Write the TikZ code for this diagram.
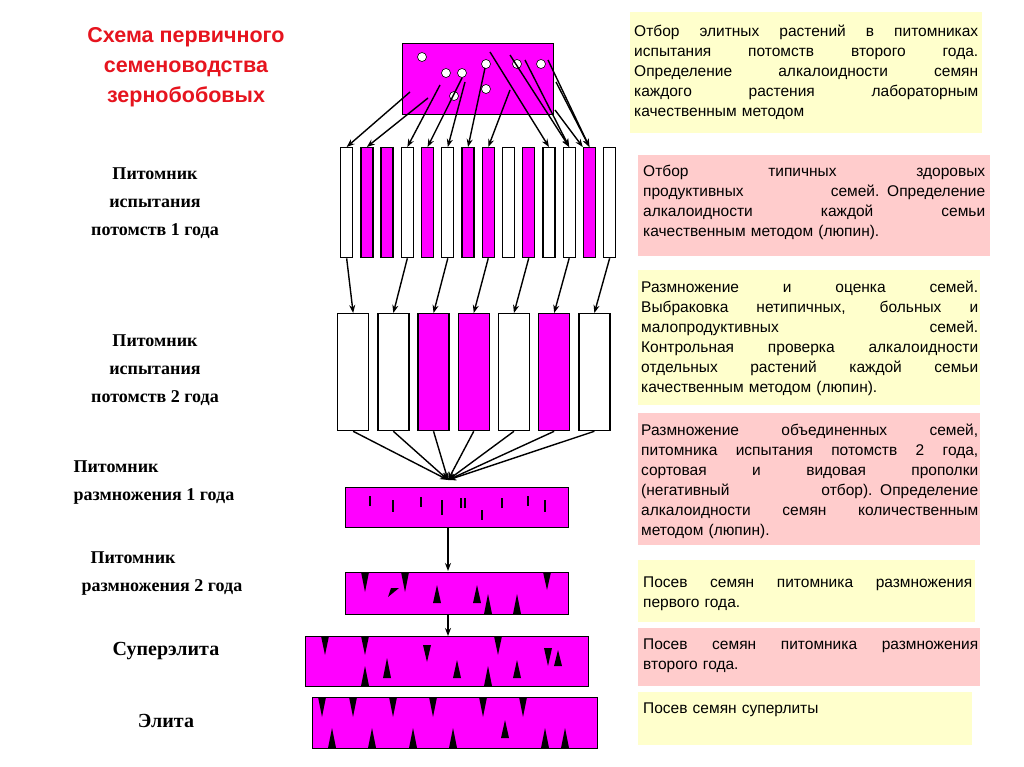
\documentclass[tikz,border=0pt]{standalone}
\usepackage{fontspec}
\setmainfont{Liberation Sans}
\newfontfamily\serifb{Liberation Serif}
\usetikzlibrary{arrows.meta}
\definecolor{mag}{RGB}{255,0,255}
\definecolor{pyel}{RGB}{255,255,204}
\definecolor{ppink}{RGB}{255,204,204}
\definecolor{tred}{RGB}{230,20,30}
\newcommand\jl[1]{\par\noindent\hbox to\linewidth{\spaceskip=.3em plus 1fil #1}\par}
\newcommand\jla[1]{\par\noindent\hbox to\linewidth{#1\hfill}\par}
\begin{document}
\begin{tikzpicture}[x=1pt,y=-1pt,
  box/.style={draw=black,line width=1.3pt,inner sep=0pt,anchor=north west},
  arr/.style={-{Stealth[length=8pt,width=6pt]},line width=1.4pt},
  panel/.style={inner sep=0pt,anchor=north west},
  ptext/.style={anchor=north west,inner sep=0pt,font=\fontsize{15.5}{20}\selectfont},
  lbl/.style={align=center,font=\serifb\bfseries\fontsize{18}{28}\selectfont},
  tri/.style={fill=black}]
\useasboundingbox[fill=white] (0,0) rectangle (1024,767);
% title
\node[align=center,text=tred,font=\bfseries\fontsize{21.5}{30}\selectfont] (title) at (186,67) {Схема первичного\\семеноводства\\зернобобовых};
% top box
\node[box,fill=mag,minimum width=151pt,minimum height=71pt] (top) at (402,43) {};
\foreach \x/\y [count=\i] in {422/57,446/73,462/73,486/64,486/89,517/64,541/64,454/96}
  \node[circle,draw=black,fill=white,line width=0.6pt,minimum size=9pt,inner sep=0pt] (d\i) at (\x,\y) {};
% strips
\foreach \f [count=\i] in {white,mag,mag,white,mag,white,mag,mag,white,mag,white,white,mag,white}
  \node[box,fill=\f,minimum width=12pt,minimum height=110pt] (s\i) at ({340+20.23*(\i-1)},147) {};
% arrows top -> strips
\foreach \x/\y/\t in {410/92/1,428/98/2,440/85/4,462/78/5,465/82/6,485/68/7,510/90/8,490/52/11,510/55/12,525/60/12,548/60/13,556/82/13}
  {\coordinate (src) at (\x,\y); \draw[arr] (src) -- (s\t.north);}
\coordinate (c1) at (555,110); \draw[arr] (c1) -- (s13.north west);
% boxes row 2
\foreach \f [count=\i] in {white,white,mag,mag,white,mag,white}
  \node[box,fill=\f,minimum width=31pt,minimum height=117pt] (b\i) at ({337+40.2*(\i-1)},313) {};
\foreach \s/\b in {1/1,4/2,6/3,8/4,10/5,12/6,14/7}
  \draw[arr] (s\s.south) -- (b\b.north);
% converge
\coordinate (conv) at (448,480);
\foreach \i in {1,...,7} \draw[arr] (b\i.south) -- (conv);
% row 3
\node[box,fill=mag,minimum width=223pt,minimum height=40pt] (r3) at (345,487) {};
\foreach \x/\a/\b in {370/496/506,393/500/512,421/497/507,442/500/515,461/498/508,465/498/508,482/510/520,502/498/508,528/496/506,545/500/512}
  \draw[line width=1.2pt] (\x,\a) -- (\x,\b);
\draw[arr] (r3.south-|conv) -- (448,571);
% row 4
\node[box,fill=mag,minimum width=223pt,minimum height=42pt] (r4) at (345,572) {};
\foreach \x/\a/\b in {365/572/592,405/572/592,547/572/590}
  \fill[tri] (\x-4,\a) -- (\x+4,\a) -- (\x,\b) -- cycle;
\foreach \x/\a/\b in {437/603/585,477/603/585,488/614/594,517/614/594}
  \fill[tri] (\x-4,\a) -- (\x+4,\a) -- (\x,\b) -- cycle;
\fill[tri] (388,597) -- (391,588) -- (399,588) -- cycle;
\draw[arr] (r4.south-|conv) -- (448,636);
% row 5
\node[box,fill=mag,minimum width=283pt,minimum height=50pt] (r5) at (305,636) {};
\foreach \x/\a/\b in {325/636/655,365/636/655,427/645/662,498/636/655,548/648/666}
  \fill[tri] (\x-4,\a) -- (\x+4,\a) -- (\x,\b) -- cycle;
\foreach \x/\a/\b in {387/678/658,457/678/660,517/678/660,558/666/650,365/686/666,488/686/666}
  \fill[tri] (\x-4,\a) -- (\x+4,\a) -- (\x,\b) -- cycle;
% row 6
\node[box,fill=mag,minimum width=285pt,minimum height=51pt] (r6) at (312,697) {};
\foreach \x in {322,353,393,433,483,523}
  \fill[tri] (\x-4,697) -- (\x+4,697) -- (\x,717) -- cycle;
\foreach \x in {332,372,413,453,545,565}
  \fill[tri] (\x-4,748) -- (\x+4,748) -- (\x,728) -- cycle;
\fill[tri] (501,738) -- (509,738) -- (505,720) -- cycle;
% left labels
\node[lbl] (l1) at (155,203) {Питомник\\испытания\\потомств 1 года};
\node[lbl] (l2) at (155,370) {Питомник\\испытания\\потомств 2 года};
\node[lbl,align=left,anchor=west] (l3) at (70,483) {Питомник\\размножения 1 года};
\node[lbl,align=left,anchor=west] (l4) at (78,574) {\ \ Питомник\\размножения 2 года};
\node[lbl,font=\serifb\bfseries\fontsize{20}{24}\selectfont] (l5) at (166,651) {Суперэлита};
\node[lbl,font=\serifb\bfseries\fontsize{20}{24}\selectfont] (l6) at (166,721) {Элита};
% panels
\node[panel,fill=pyel,minimum width=352pt,minimum height=121pt] (p1) at (630,12) {};
\node[ptext,text width=344pt] (t1) at (634,16) {%
\jl{Отбор элитных растений в питомниках}\jl{испытания потомств второго года.}\jl{Определение алкалоидности семян}\jl{каждого растения лабораторным}\jla{качественным методом}};
\node[panel,fill=ppink,minimum width=352pt,minimum height=101pt] (p2) at (638,155) {};
\node[ptext,text width=342pt] (t2) at (643,156) {%
\jl{Отбор типичных здоровых}\jl{продуктивных семей. Определение}\jl{алкалоидности каждой семьи}\jla{качественным методом (люпин).}};
\node[panel,fill=pyel,minimum width=342pt,minimum height=135pt] (p3) at (638,270) {};
\node[ptext,text width=337pt] (t3) at (641,272) {%
\jl{Размножение и оценка семей.}\jl{Выбраковка нетипичных, больных и}\jl{малопродуктивных семей.}\jl{Контрольная проверка алкалоидности}\jl{отдельных растений каждой семьи}\jla{качественным методом (люпин).}};
\node[panel,fill=ppink,minimum width=342pt,minimum height=132pt] (p4) at (638,413) {};
\node[ptext,text width=337pt] (t4) at (641,415) {%
\jl{Размножение объединенных семей,}\jl{питомника испытания потомств 2 года,}\jl{сортовая и видовая прополки}\jl{(негативный отбор). Определение}\jl{алкалоидности семян количественным}\jla{методом (люпин).}};
\node[panel,fill=pyel,minimum width=337pt,minimum height=62pt] (p5) at (638,560) {};
\node[ptext,text width=329pt] (t5) at (643,567) {%
\jl{Посев семян питомника размножения}\jla{первого года.}};
\node[panel,fill=ppink,minimum width=342pt,minimum height=58pt] (p6) at (638,628) {};
\node[ptext,text width=335pt] (t6) at (643,629) {%
\jl{Посев семян питомника размножения}\jla{второго года.}};
\node[panel,fill=pyel,minimum width=334pt,minimum height=53pt] (p7) at (638,692) {};
\node[ptext,text width=329pt] (t7) at (643,693) {%
\jla{Посев семян суперлиты}};
\end{tikzpicture}
\end{document}
